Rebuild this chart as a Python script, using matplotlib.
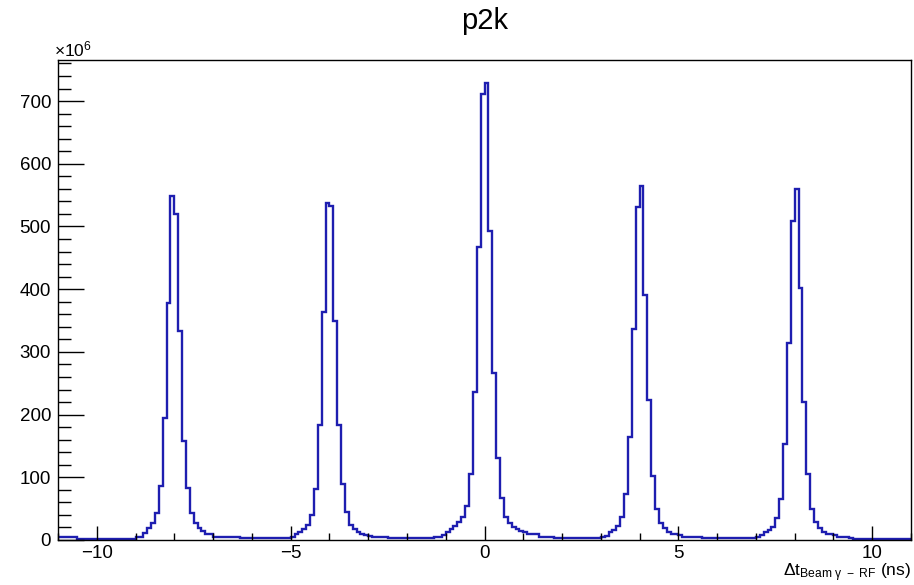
import numpy as np
import matplotlib
matplotlib.use("Agg")
import matplotlib.pyplot as plt
from matplotlib.ticker import MultipleLocator

plt.rcParams['font.family'] = ['Liberation Sans', 'DejaVu Sans']
plt.rcParams['mathtext.fontset'] = 'custom'
plt.rcParams['mathtext.rm'] = 'Liberation Sans'
plt.rcParams['mathtext.it'] = 'Liberation Sans'
plt.rcParams['mathtext.bf'] = 'Liberation Sans'

# Histogram definition: 220 bins of 0.1 ns from -11 to 11 ns
x_min, x_max, n_bins = -11.0, 11.0, 220

# Bin contents (units of 1e6), one row per ns, lower edges -11.0 ... 10.9
counts_m11 = [5, 5, 5, 5, 5, 2, 2, 2, 2, 2]
counts_m10 = [2, 2, 2, 2, 2, 2, 2, 2, 2, 2]
counts_m9 = [4, 5, 11, 19, 27, 43, 86, 195, 378, 548]
counts_m8 = [520, 333, 158, 83, 43, 27, 19, 14, 10, 10]
counts_m7 = [5, 5, 5, 5, 4, 4, 4, 3, 3, 3]
counts_m6 = [3, 3, 3, 3, 3, 3, 3, 3, 3, 3]
counts_m5 = [5, 9, 13, 17, 24, 40, 82, 184, 363, 538]
counts_m4 = [533, 350, 184, 89, 44, 24, 17, 12, 10, 8]
counts_m3 = [6, 4, 4, 4, 4, 3, 3, 3, 3, 3]
counts_m2 = [3, 3, 3, 3, 3, 3, 3, 4, 4, 8]
counts_m1 = [12, 17, 22, 28, 37, 54, 106, 236, 467, 712]
counts_p0 = [729, 493, 266, 130, 67, 37, 27, 20, 17, 15]
counts_p1 = [12, 9, 9, 9, 5, 4, 4, 4, 3, 3]
counts_p2 = [3, 3, 3, 3, 3, 3, 3, 3, 3, 3]
counts_p3 = [5, 6, 13, 16, 23, 37, 73, 164, 337, 531]
counts_p4 = [564, 391, 224, 102, 49, 27, 19, 13, 10, 10]
counts_p5 = [8, 5, 5, 5, 4, 4, 3, 3, 3, 3]
counts_p6 = [3, 3, 3, 3, 3, 3, 3, 3, 3, 3]
counts_p7 = [5, 8, 12, 16, 21, 35, 66, 153, 314, 509]
counts_p8 = [559, 402, 220, 105, 50, 29, 19, 13, 10, 9]
counts_p9 = [8, 5, 5, 5, 3, 2, 2, 2, 2, 2]
counts_p10 = [2, 2, 2, 2, 2, 2, 2, 2, 2, 2]

counts = np.array(counts_m11 + counts_m10 + counts_m9 + counts_m8 + counts_m7 +
                  counts_m6 + counts_m5 + counts_m4 + counts_m3 + counts_m2 +
                  counts_m1 + counts_p0 + counts_p1 + counts_p2 + counts_p3 +
                  counts_p4 + counts_p5 + counts_p6 + counts_p7 + counts_p8 +
                  counts_p9 + counts_p10, dtype=float)
edges = np.linspace(x_min, x_max, n_bins + 1)

title = "p2k"
xlabel = r"$\Delta t_{\mathrm{Beam\ \gamma\ -\ RF}}$ (ns)"

W, H = 914, 585
fig = plt.figure(figsize=(W / 100, H / 100), dpi=100)
L, R, T, B = 58, 911, 60, 540
ax = fig.add_axes([L / W, (H - B) / H, (R - L) / W, (B - T) / H])

ax.stairs(counts, edges, baseline=None, color='#1e1eb0', linewidth=1.7)

ax.set_xlim(x_min, x_max)
ax.set_ylim(0, counts.max() * 1.05)

ax.xaxis.set_major_locator(MultipleLocator(5))
ax.xaxis.set_minor_locator(MultipleLocator(1))
ax.yaxis.set_major_locator(MultipleLocator(100))
ax.yaxis.set_minor_locator(MultipleLocator(20))

ax.tick_params(axis='both', which='both', direction='in', top=False, right=False,
               width=1.0, color='black', labelsize=13.5)
ax.tick_params(axis='x', which='major', length=10.4, pad=3.5)
ax.tick_params(axis='x', which='minor', length=5.2)
ax.tick_params(axis='y', which='major', length=18.4, pad=5)
ax.tick_params(axis='y', which='minor', length=9.2)
for s in ax.spines.values():
    s.set_linewidth(1.0)
    s.set_color('black')

fig.text((L + R) / 2 / W, 1 - 21 / H, title, ha='center', va='center', fontsize=21)
fig.text(54 / W, 1 - 49 / H, r"$\times10^{6}$", ha='left', va='center', fontsize=12.5)
fig.text(R / W, 1 - 573 / H, xlabel, ha='right', va='center', fontsize=12.5)

fig.savefig("out.png", dpi=100)
